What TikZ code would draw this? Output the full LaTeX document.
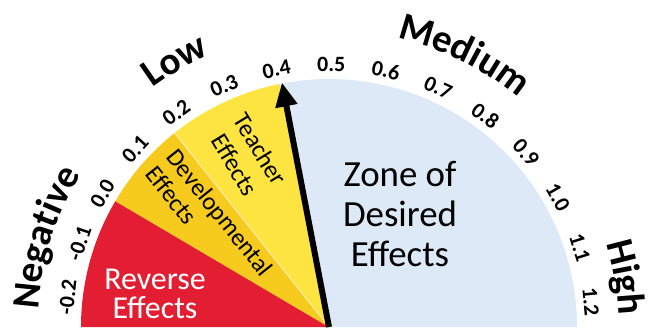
\documentclass[tikz,border=0pt]{standalone}
\usepackage{fontspec}
\setmainfont{Carlito}
\usetikzlibrary{arrows.meta,decorations.text}
\definecolor{redz}{RGB}{228,30,50}
\definecolor{devy}{RGB}{247,202,30}
\definecolor{teay}{RGB}{253,228,64}
\definecolor{bluez}{RGB}{221,233,246}
\newcommand\bigfont{\fontsize{39}{40}\selectfont\bfseries}
\begin{document}
\begin{tikzpicture}[x=1bp,y=1bp,
  ticklabel/.style={font=\fontsize{22}{23}\selectfont\bfseries, inner sep=0pt},
  zonetext/.style={inner sep=0pt, align=center},
  curvedlabel/.style={decorate, decoration={text along path, text={|\bigfont|#1}, text align=center}},
  pointer/.style={line width=6bp, -{Triangle[width=21bp,length=24bp]}}]
\useasboundingbox (0,0) rectangle (649,327);
\coordinate (C) at (329,0);
\def\R{248}
% sectors
\fill[redz] (C) -- ++(180:\R) arc[start angle=180, end angle=149.5, radius=\R] -- cycle;
\fill[devy] (C) -- ++(149.5:\R) arc[start angle=149.5, end angle=128.5, radius=\R] -- cycle;
\fill[teay] (C) -- ++(128.5:\R) arc[start angle=128.5, end angle=101.5, radius=\R] -- cycle;
\fill[bluez] (C) -- ++(101.5:\R) arc[start angle=101.5, end angle=0, radius=\R] -- cycle;
\coordinate (devedge) at ([shift={(128.5:\R)}]C);
\draw[white!60!devy, line width=1.2bp] (C) -- (devedge);
% tick labels
\foreach \v [count=\i] in {-0.2,-0.1,0.0,0.1,0.2,0.3,0.4,0.5,0.6,0.7,0.8,0.9,1.0,1.1,1.2}{
  \pgfmathsetmacro\a{149.5-120*\v}
  \node[ticklabel, rotate=\a-90] (tick\i) at ([shift={(\a:263)}]C) {\v};
}
% big curved labels
\path[curvedlabel=Negative] ([shift={(190:291)}]C) arc[start angle=190, end angle=135, radius=291];
\path[curvedlabel=Low] ([shift={(150:297)}]C) arc[start angle=150, end angle=90, radius=297];
\path[curvedlabel=Medium] ([shift={(93.6:297)}]C) arc[start angle=93.6, end angle=33.6, radius=297];
\path[curvedlabel=High] ([shift={(39.5:290)}]C) arc[start angle=39.5, end angle=-20.5, radius=290];
% zone texts
\node[zonetext, font=\fontsize{37}{40}\selectfont] (zone) at (400,113) {Zone of\\Desired\\Effects};
\node[zonetext, text=white, font=\fontsize{32}{29}\selectfont] (reverse) at (155,33) {Reverse\\Effects};
\node[inner sep=0pt, align=left, rotate=-51.4, font=\fontsize{25}{27}\selectfont] (dev) at (209.5,106) {Developmental\\Effects};
\node[zonetext, rotate=-58.6, font=\fontsize{25}{30}\selectfont] (teacher) at (247.5,170) {Teacher\\Effects};
% pointer
\coordinate (tip) at ([shift={(100.9:249)}]C);
\draw[pointer] (C) -- (tip);
\end{tikzpicture}
\end{document}
